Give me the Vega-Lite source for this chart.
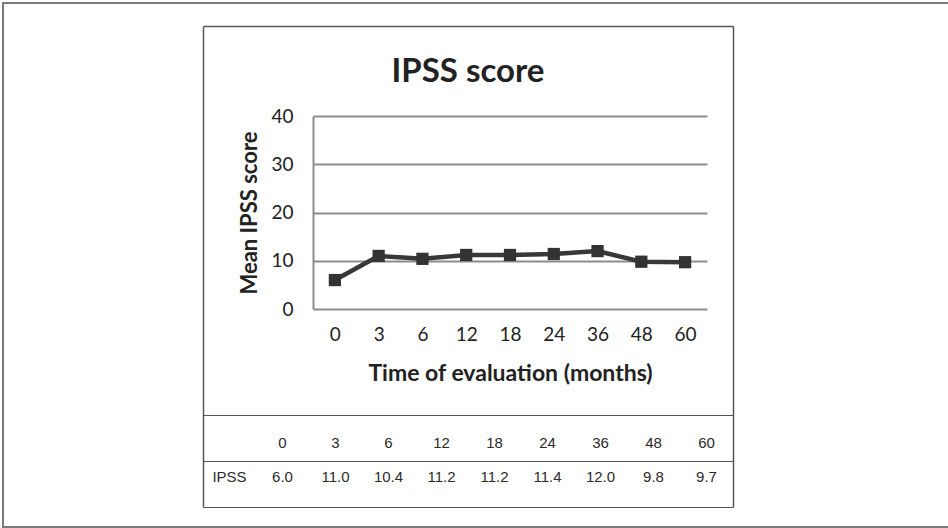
{
  "$schema": "https://vega.github.io/schema/vega-lite/v6.json",
  "width": 946,
  "height": 524,
  "autosize": "none",
  "padding": {"left": 3, "top": 3, "right": -1, "bottom": 1},
  "background": "white",
  "config": {
    "font": "Lato",
    "view": {"stroke": "#7a7a7a", "strokeWidth": 2},
    "text": {"font": "Liberation Sans", "fontSize": 15, "color": "#2a2a2a"}
  },
  "title": {
    "text": "IPSS score",
    "frame": "group",
    "anchor": "middle",
    "orient": "top",
    "offset": -119,
    "dx": -8,
    "baseline": "bottom",
    "fontSize": 33,
    "fontWeight": "bold",
    "color": "#222"
  },
  "datasets": {
    "ipss": [
      {"month": "0", "score": 6.0},
      {"month": "3", "score": 11.0},
      {"month": "6", "score": 10.4},
      {"month": "12", "score": 11.2},
      {"month": "18", "score": 11.2},
      {"month": "24", "score": 11.4},
      {"month": "36", "score": 12.0},
      {"month": "48", "score": 9.8},
      {"month": "60", "score": 9.7}
    ],
    "rows": [{"row": "IPSS"}]
  },
  "layer": [
    {
      "data": {"name": "ipss"},
      "encoding": {
        "x": {
          "field": "month",
          "type": "ordinal",
          "sort": null,
          "scale": {"type": "point", "range": [310, 704], "padding": 0.5},
          "axis": {
            "orient": "bottom",
            "offset": -219,
            "domain": false,
            "ticks": false,
            "grid": false,
            "labelAngle": 0,
            "labelPadding": 17,
            "labelFontSize": 19,
            "labelColor": "#222",
            "title": "Time of evaluation (months)",
            "titleFontSize": 23,
            "titleFontWeight": "bold",
            "titleColor": "#222",
            "titlePadding": 18
          }
        },
        "y": {
          "field": "score",
          "type": "quantitative",
          "scale": {"domain": [0, 40], "range": [306, 113], "nice": false},
          "axis": {
            "orient": "left",
            "offset": -310,
            "values": [0, 10, 20, 30, 40],
            "grid": true,
            "gridColor": "#8c8c8c",
            "gridWidth": 2,
            "domain": true,
            "domainColor": "#8c8c8c",
            "domainWidth": 2,
            "ticks": false,
            "labelPadding": 20,
            "labelFontSize": 19,
            "labelColor": "#222",
            "title": "Mean IPSS score",
            "titleFontSize": 22,
            "titleFontWeight": "bold",
            "titleColor": "#222",
            "titlePadding": 9
          }
        }
      },
      "layer": [
        {"mark": {"type": "line", "color": "#383838", "strokeWidth": 4.5}},
        {"mark": {"type": "point", "shape": "square", "filled": true, "size": 150, "color": "#333", "opacity": 1}}
      ]
    },
    {
      "layer": [
        {
          "data": {"name": "ipss"},
          "mark": {"type": "text", "dy": 5},
          "encoding": {
            "x": {
              "field": "month",
              "type": "nominal",
              "scale": {"type": "band", "domain": ["name", "0", "3", "6", "12", "18", "24", "36", "48", "60"], "range": [200, 730], "paddingInner": 0, "paddingOuter": 0},
              "axis": {
                "orient": "top",
                "offset": -23,
                "values": ["60"],
                "bandPosition": 1,
                "grid": true,
                "gridColor": "#555",
                "gridWidth": 1.5,
                "domain": true,
                "domainColor": "#555",
                "domainWidth": 1.5,
                "ticks": false,
                "labels": false,
                "title": null
              }
            },
            "y": {
              "datum": "header",
              "type": "nominal",
              "scale": {"type": "band", "domain": ["s1", "s2", "s3", "s4", "s5", "s6", "s7", "s8", "header", "IPSS"], "range": [23, 504], "paddingInner": 0, "paddingOuter": 0.228, "align": 1},
              "axis": {
                "orient": "left",
                "offset": -200,
                "values": ["header", "IPSS"],
                "tickBand": "extent",
                "grid": true,
                "gridColor": "#555",
                "gridWidth": 1.2,
                "domain": true,
                "domainColor": "#555",
                "domainWidth": 1.5,
                "ticks": false,
                "labels": false,
                "title": null
              }
            },
            "text": {"field": "month"}
          }
        },
        {
          "data": {"name": "ipss"},
          "mark": {"type": "text", "dy": -7},
          "encoding": {
            "x": {"field": "month", "type": "nominal"},
            "y": {"datum": "IPSS", "type": "nominal"},
            "text": {"field": "score", "type": "quantitative", "format": ".1f"}
          }
        },
        {
          "data": {"name": "rows"},
          "mark": {"type": "text", "dy": -7},
          "encoding": {
            "x": {"datum": "name", "type": "nominal"},
            "y": {"field": "row", "type": "nominal"},
            "text": {"field": "row"}
          }
        }
      ]
    }
  ],
  "resolve": {"scale": {"x": "independent", "y": "independent"}}
}
